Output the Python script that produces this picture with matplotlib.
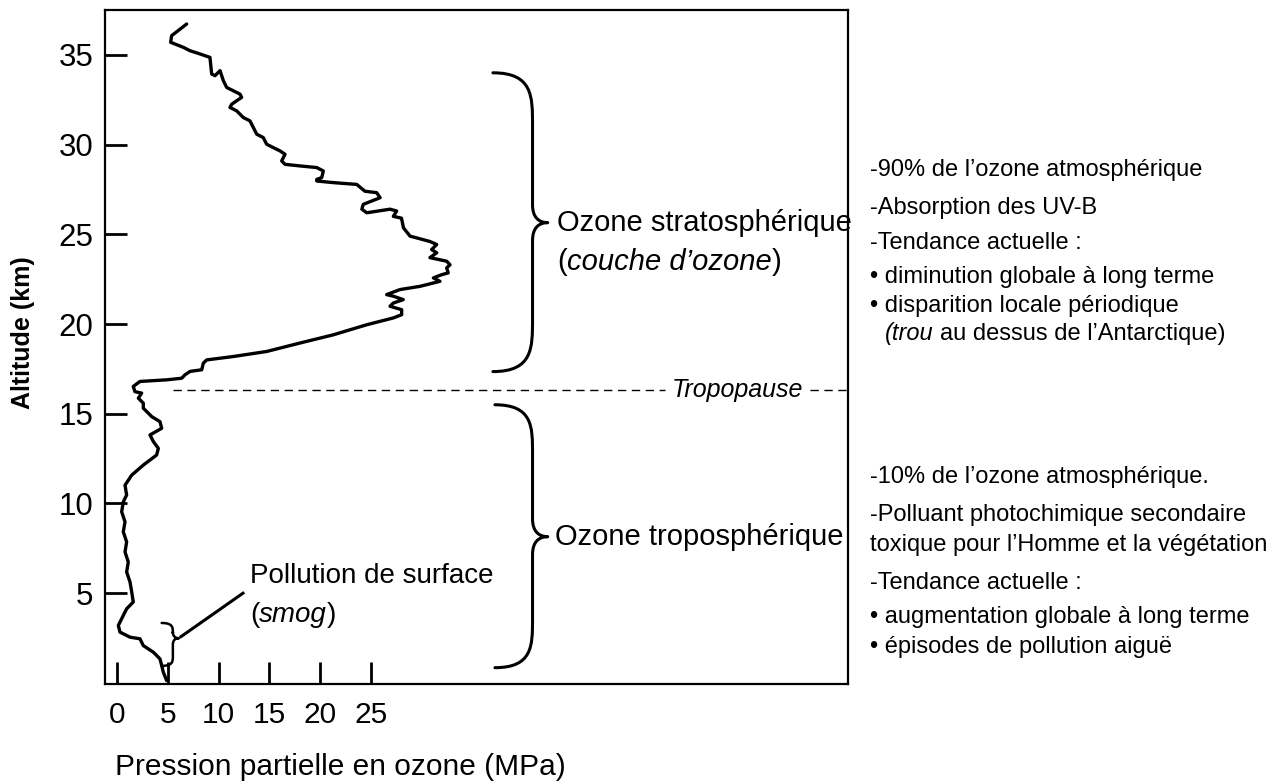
import matplotlib.pyplot as plt
from matplotlib.path import Path
from matplotlib.patches import PathPatch

plt.rcParams['font.family'] = ['Liberation Sans', 'DejaVu Sans']

# ---- données (profil d'ozone, du sol vers le haut) ----
ozone_mpa = [4.89, 4.56, 4.40, 4.23, 3.58, 2.59, 2.26, 1.28, 0.30, 0.13,
             0.62, 0.95, 1.60, 1.45, 1.28, 0.95, 1.11, 0.79, 0.95, 0.62,
             0.79, 0.46, 0.62, 0.95, 0.79, 1.45, 2.59, 3.90, 4.07, 3.58,
             3.25, 4.40, 4.23, 3.42, 2.59, 2.59, 2.10, 2.43, 1.77, 1.60,
             2.26, 4.89, 6.37, 6.69, 7.19, 8.34, 8.50, 8.83, 11.45, 14.73,
             18.00, 21.30, 24.58, 27.20, 28.02, 28.02, 26.87, 27.20, 28.18, 27.20,
             26.54, 27.85, 29.82, 31.79, 31.14, 31.96, 32.60, 32.45, 32.78, 32.45,
             30.80, 31.47, 30.97, 31.47, 30.80, 28.84, 28.20, 28.00, 27.20, 27.53,
             26.87, 24.58, 24.10, 24.24, 25.90, 25.56, 24.40, 23.60, 21.30, 19.66,
             19.66, 20.15, 20.31, 19.66, 18.01, 16.54, 16.21, 16.54, 16.04, 15.39,
             14.73, 14.40, 13.75, 13.42, 13.09, 12.43, 11.78, 11.12, 11.29, 12.27,
             12.11, 11.45, 10.80, 10.47, 10.14, 9.65, 9.32, 9.15, 8.17, 7.19,
             6.53, 5.28, 5.38, 6.86]
altitude_km = [0.13, 0.60, 0.97, 1.34, 1.71, 2.08, 2.46, 2.55, 2.83, 3.20,
               3.76, 4.13, 4.51, 5.07, 5.63, 6.18, 6.74, 7.30, 7.86, 8.42,
               8.98, 9.54, 10.09, 10.47, 11.02, 11.58, 12.14, 12.70, 13.07, 13.45,
               13.82, 14.19, 14.56, 14.84, 15.31, 15.59, 15.87, 16.15, 16.23, 16.52,
               16.80, 16.89, 16.98, 17.17, 17.36, 17.45, 17.82, 18.00, 18.19, 18.47,
               18.94, 19.40, 19.96, 20.34, 20.52, 20.80, 20.99, 21.17, 21.36, 21.55,
               21.64, 21.92, 22.10, 22.38, 22.57, 22.75, 22.85, 23.13, 23.30, 23.50,
               23.70, 23.97, 24.15, 24.43, 24.60, 24.90, 25.36, 25.90, 26.00, 26.30,
               26.40, 26.20, 26.40, 26.67, 27.04, 27.32, 27.40, 27.78, 27.88, 27.97,
               28.06, 28.16, 28.53, 28.72, 28.81, 28.90, 29.09, 29.46, 29.65, 29.83,
               30.02, 30.39, 30.58, 30.95, 31.32, 31.51, 31.88, 32.07, 32.25, 32.63,
               32.81, 33.00, 33.18, 33.56, 34.12, 33.84, 33.93, 34.86, 35.05, 35.23,
               35.42, 35.70, 36.07, 36.72]

x_ticks = [0, 5, 10, 15, 20, 25]
y_ticks = [5, 10, 15, 20, 25, 30, 35]
tropopause_km = 16.3

# accolades : (haut, bas, pointe) en km
strato_brace = (34.0, 17.35, 25.65)
tropo_brace = (15.5, 0.85, 8.15)
smog_brace = (3.34, 0.95, 2.49)

texte_strato = ['-90% de l\u2019ozone atmosphérique',
                '-Absorption des UV-B',
                '-Tendance actuelle :',
                '\u2022 diminution globale à long terme',
                '\u2022 disparition locale périodique']
texte_tropo = ['-10% de l\u2019ozone atmosphérique.',
               '-Polluant photochimique secondaire',
               'toxique pour l\u2019Homme et la végétation',
               '-Tendance actuelle :',
               '\u2022 augmentation globale à long terme',
               '\u2022 épisodes de pollution aiguë']

W, H = 1287, 784
fig = plt.figure(figsize=(W / 100, H / 100), dpi=100)
ax = fig.add_axes([105 / W, 1 - 684 / H, (848 - 105) / W, (684 - 10) / H])

ax.plot(ozone_mpa, altitude_km, color='black', lw=2.4,
        solid_joinstyle='round', solid_capstyle='round')

ax.set_xlim(-1.18, 71.95)
ax.set_ylim(-0.06, 37.5)
ax.set_xticks(x_ticks)
ax.set_yticks(y_ticks)
ax.tick_params(direction='in', length=16, width=2, colors='black')
ax.tick_params(axis='x', labelsize=21.5, pad=12)
ax.tick_params(axis='y', labelsize=22.5, pad=8.5)
for sp in ax.spines.values():
    sp.set_linewidth(1.6)
    sp.set_color('black')


def brace(x_end, x_mid, x_tip, y_top, y_bot, y_tip, r, s, lw=2.2):
    verts = [(x_end, y_top),
             (x_mid, y_top), (x_mid, y_top - r * 0.45), (x_mid, y_top - r),
             (x_mid, y_tip + s),
             (x_mid, y_tip + s * 0.3), (x_mid + (x_tip - x_mid) * 0.4, y_tip), (x_tip, y_tip),
             (x_mid + (x_tip - x_mid) * 0.4, y_tip), (x_mid, y_tip - s * 0.3), (x_mid, y_tip - s),
             (x_mid, y_bot + r),
             (x_mid, y_bot + r * 0.45), (x_mid, y_bot), (x_end, y_bot)]
    codes = ([Path.MOVETO] + [Path.CURVE4] * 3 + [Path.LINETO] + [Path.CURVE4] * 6
             + [Path.LINETO] + [Path.CURVE4] * 3)
    ax.add_patch(PathPatch(Path(verts, codes), fill=False, lw=lw, color='black',
                           capstyle='round', joinstyle='round', clip_on=False))


brace(37.0, 40.9, 42.4, *strato_brace, r=2.9, s=1.0)
brace(37.2, 40.9, 42.4, *tropo_brace, r=2.7, s=1.0)
brace(4.4, 5.5, 6.1, *smog_brace, r=0.55, s=0.35, lw=1.8)
ax.plot([6.3, 12.4], [2.58, 5.0], color='black', lw=2.2)

# tropopause
ax.plot([5.5, 53.9], [tropopause_km, tropopause_km], color='black', lw=1.0, dashes=(6, 4))
ax.plot([68.2, 71.95], [tropopause_km, tropopause_km], color='black', lw=1.0, dashes=(6, 4))
ax.text(61.1, tropopause_km, 'Tropopause', fontsize=18, fontstyle='italic',
        ha='center', va='center')

renderer = fig.canvas.get_renderer()


def rich_line(x, y, parts, size):
    for s, style in parts:
        if s.startswith(' '):
            x += 0.278 * size * 100 / 72 * (len(s) - len(s.lstrip(' ')))
            s = s.lstrip(' ')
        t = fig.text(x / W, 1 - y / H, s, fontsize=size, fontstyle=style,
                     ha='left', va='center')
        x += t.get_window_extent(renderer).width


fig.text(557 / W, 1 - 223 / H, 'Ozone stratosphérique', fontsize=21, va='center')
rich_line(557, 262, [('(', 'normal'), ('couche d\u2019ozone', 'italic'), (')', 'normal')], 21)
fig.text(555 / W, 1 - 537 / H, 'Ozone troposphérique', fontsize=21, va='center')
fig.text(250 / W, 1 - 576 / H, 'Pollution de surface', fontsize=20, va='center')
rich_line(250, 615, [('(', 'normal'), ('smog', 'italic'), (')', 'normal')], 20)

for txt, yy in zip(texte_strato, [170, 208, 243, 277, 306]):
    fig.text(870 / W, 1 - yy / H, txt, fontsize=17, va='center')
rich_line(885, 334, [('(trou', 'italic'), (' au dessus de l\u2019Antarctique)', 'normal')], 17)
for txt, yy in zip(texte_tropo, [477, 515, 545, 583, 617, 647]):
    fig.text(870 / W, 1 - yy / H, txt, fontsize=17, va='center')

fig.text(115 / W, 1 - 767 / H, 'Pression partielle en ozone (MPa)', fontsize=21.5, va='center')
fig.text(23 / W, 1 - 333 / H, 'Altitude (km)', fontsize=18, fontweight='bold',
         rotation=90, ha='center', va='center')

fig.savefig('out.png', dpi=100)
